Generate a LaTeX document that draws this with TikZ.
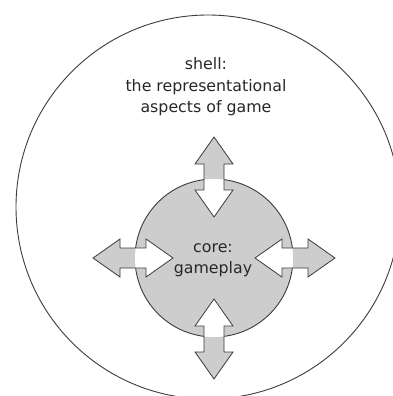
\documentclass[tikz,border=0pt]{standalone}
\usepackage{fontspec}
\setmainfont{DejaVu Sans}
\definecolor{coregray}{RGB}{205,205,205}
\definecolor{linegray}{RGB}{60,60,60}
\definecolor{textgray}{RGB}{40,40,40}
\newcommand\dblarrowpath{(0,41) -- (19,68) -- (10,68) -- (10,94) -- (19,94) -- (0,121) -- (-19,94) -- (-10,94) -- (-10,68) -- (-19,68) -- cycle}
\tikzset{
  outerring/.style={draw=linegray, line width=0.9pt, circle, minimum size=384pt, inner sep=0pt},
  coredisc/.style={draw=linegray, fill=coregray, line width=0.9pt, circle, minimum size=158pt, inner sep=0pt},
  arrowline/.style={draw=linegray, line width=0.8pt, line join=miter},
  label/.style={text=textgray, inner sep=0pt, anchor=base, font=\fontsize{15.8}{21}\selectfont}
}
\begin{document}
\begin{tikzpicture}[x=1pt, y=-1pt]
\clip (0,0) rectangle (393,396);
\fill[white] (0,0) rectangle (393,396);
\node[outerring] (shell) at (208,207) {};
\node[coredisc] (core) at (214,258) {};
\foreach \ang/\nm in {0/down, 90/left, 180/up, 270/right}{
  \begin{scope}[shift={(core.center)}, rotate=\ang]
    \fill[coregray] \dblarrowpath;
    \begin{scope}
      \clip (0,0) circle (79);
      \fill[white] \dblarrowpath;
    \end{scope}
    \draw[arrowline] \dblarrowpath;
  \end{scope}
}
\node[label] (s1) at (206,70) {shell:};
\node[label] (s2) at (206,91.5) {the representational};
\node[label] (s3) at (206,112) {aspects of game};
\node[label] (c1) at (213,252) {core:};
\node[label] (c2) at (213,273) {gameplay};
\end{tikzpicture}
\end{document}
